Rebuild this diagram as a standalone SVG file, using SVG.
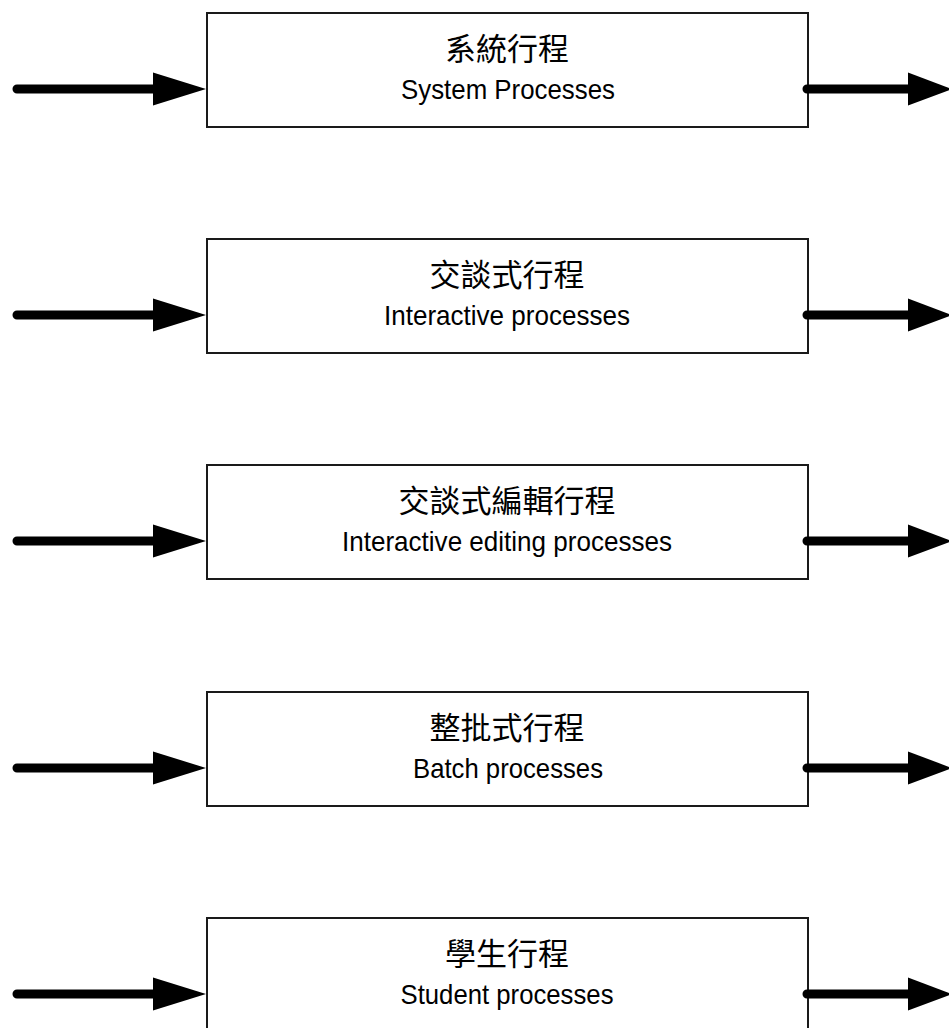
<svg xmlns="http://www.w3.org/2000/svg" xmlns:xlink="http://www.w3.org/1999/xlink" width="949" height="1028" viewBox="0 0 949 1028">
  <style>
    .box { fill: #ffffff; stroke: #1a1a1a; stroke-width: 2; }
    .zh { font-family: "Liberation Sans", "Noto Sans CJK TC", sans-serif; font-size: 31px; fill: #000; text-anchor: middle; }
    .en { font-family: "Liberation Sans", Arial, sans-serif; font-size: 28px; fill: #000; text-anchor: middle; }
    .shaft { stroke: #000; stroke-width: 9; stroke-linecap: round; fill: none; }
    .head { fill: #000; }
  </style>
  <defs>
    <!-- arrowhead, base at x=0, centred on y=0 -->
    <polygon id="headIn" points="0,-16.5 53,0 0,16.5"/>
    <polygon id="headOut" points="0,-16.5 44,0 0,16.5"/>
  </defs>
  <rect width="949" height="1028" fill="#ffffff"/>

  <g id="node-system">
    <rect class="box" x="207" y="13" width="601" height="114"/>
    <text class="zh" x="507" y="60">系統行程</text>
    <text class="en" x="508" y="99" textLength="214" lengthAdjust="spacingAndGlyphs">System Processes</text>
  </g>

  <g id="node-interactive">
    <rect class="box" x="207" y="239" width="601" height="114"/>
    <text class="zh" x="507" y="286">交談式行程</text>
    <text class="en" x="507" y="325" textLength="246" lengthAdjust="spacingAndGlyphs">Interactive processes</text>
  </g>

  <g id="node-editing">
    <rect class="box" x="207" y="465" width="601" height="114"/>
    <text class="zh" x="507" y="512">交談式編輯行程</text>
    <text class="en" x="507" y="551" textLength="330" lengthAdjust="spacingAndGlyphs">Interactive editing processes</text>
  </g>

  <g id="node-batch">
    <rect class="box" x="207" y="692" width="601" height="114"/>
    <text class="zh" x="507" y="739">整批式行程</text>
    <text class="en" x="508" y="778" textLength="190" lengthAdjust="spacingAndGlyphs">Batch processes</text>
  </g>

  <g id="node-student">
    <rect class="box" x="207" y="918" width="601" height="114"/>
    <text class="zh" x="507" y="965">學生行程</text>
    <text class="en" x="507" y="1004" textLength="213" lengthAdjust="spacingAndGlyphs">Student processes</text>
  </g>

  <g id="connectors">
    <!-- inbound arrows -->
    <path class="shaft" d="M17,89 H156 M17,315 H156 M17,541 H156 M17,768 H156 M17,994 H156"/>
    <use xlink:href="#headIn" class="head" x="153" y="89"/>
    <use xlink:href="#headIn" class="head" x="153" y="315"/>
    <use xlink:href="#headIn" class="head" x="153" y="541"/>
    <use xlink:href="#headIn" class="head" x="153" y="768"/>
    <use xlink:href="#headIn" class="head" x="153" y="994"/>
    <!-- outbound arrows -->
    <path class="shaft" d="M807,89 H911 M807,315 H911 M807,541 H911 M807,768 H911 M807,994 H911"/>
    <use xlink:href="#headOut" class="head" x="908" y="89"/>
    <use xlink:href="#headOut" class="head" x="908" y="315"/>
    <use xlink:href="#headOut" class="head" x="908" y="541"/>
    <use xlink:href="#headOut" class="head" x="908" y="768"/>
    <use xlink:href="#headOut" class="head" x="908" y="994"/>
  </g>
</svg>
